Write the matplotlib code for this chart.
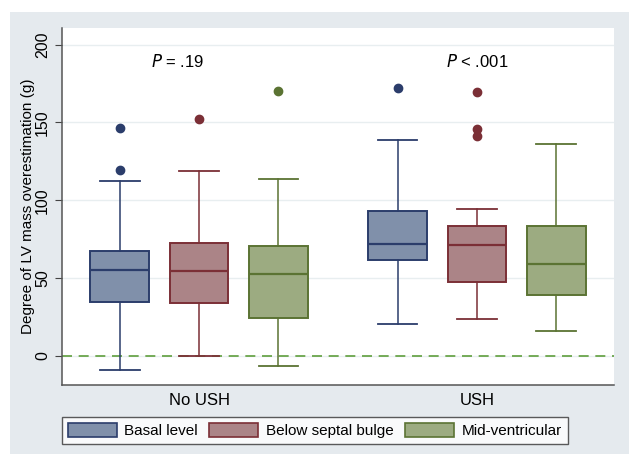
import numpy as np
import matplotlib
matplotlib.use("Agg")
import matplotlib.pyplot as plt
from matplotlib.patches import Rectangle, Patch

plt.rcParams['font.family'] = ['Liberation Sans', 'DejaVu Sans']

# values (g)
groups = ['No USH', 'USH']
levels = ['Basal level', 'Below septal bulge', 'Mid-ventricular']
p_labels = [r'$\it{P}$ = .19', r'$\it{P}$ < .001']

# per box: whisker low, Q1, median, Q3, whisker high (No USH x3, then USH x3)
whislo = [-9.0, 0.0, -6.6, 20.2, 23.6, 15.7]
q1 = [34.7, 34.1, 24.4, 61.7, 47.6, 39.2]
med = [54.9, 54.3, 52.7, 72.0, 71.2, 59.2]
q3 = [67.1, 72.7, 70.4, 93.2, 83.6, 83.2]
whishi = [112.1, 118.8, 113.4, 138.7, 94.3, 135.9]
outliers = [[146.4, 119.6], [152.4], [170.2], [172.2], [169.6, 146.0, 141.3], []]

fills = ['#8090aa', '#ab8487', '#9cab81']
edges = ['#2b3d6b', '#7b2f36', '#5b7333']

fig = plt.figure(figsize=(6.29, 4.54), dpi=100)
fig.patches.append(Rectangle((10 / 629, 0), 1, 1 - 12 / 454, transform=fig.transFigure,
                             facecolor='#e5eaee', edgecolor='none', zorder=-1))
ax = fig.add_axes([62 / 629, 1 - 385 / 454, (614 - 62) / 629, (385 - 28) / 454])
ax.set_facecolor('white')

positions = [0, 1, 2, 3.5, 4.5, 5.5]
for i, pos in enumerate(positions):
    k = i % 3
    stats = [dict(whislo=whislo[i], q1=q1[i], med=med[i], q3=q3[i], whishi=whishi[i],
                  fliers=outliers[i])]
    ax.bxp(stats, positions=[pos], widths=0.74, patch_artist=True, manage_ticks=False,
           boxprops=dict(facecolor=fills[k], edgecolor=edges[k], linewidth=1.4),
           medianprops=dict(color=edges[k], linewidth=1.6),
           whiskerprops=dict(color=edges[k], linewidth=1.1),
           capprops=dict(color=edges[k], linewidth=1.3), capwidths=0.5,
           flierprops=dict(marker='o', markerfacecolor=edges[k], markeredgecolor=edges[k],
                           markersize=6))

ax.axhline(0, color='#5f9e3c', lw=1.2, ls=(0, (6, 4)), zorder=1)

ax.set_xlim(-0.727, 6.227)
ax.set_ylim(-18.8, 210.7)
ax.set_yticks([0, 50, 100, 150, 200])
ax.yaxis.grid(True, color='#e8eef0', lw=1)
ax.set_axisbelow(True)
ax.tick_params(axis='y', labelsize=11.5, length=5, color='#444444', labelrotation=90)
for lab in ax.get_yticklabels():
    lab.set_va('center')
ax.set_xticks([1, 4.5])
ax.set_xticklabels(groups, fontsize=12)
ax.tick_params(axis='x', length=0, pad=6)
ax.set_ylabel('Degree of LV mass overestimation (g)', fontsize=11, labelpad=0)

for s in ['top', 'right']:
    ax.spines[s].set_visible(False)
for s in ['left', 'bottom']:
    ax.spines[s].set_color('#555555')
    ax.spines[s].set_linewidth(1.1)

ax.text(0.73, 189, p_labels[0], ha='center', va='center', fontsize=12)
ax.text(4.5, 189, p_labels[1], ha='center', va='center', fontsize=12)

handles = [Patch(facecolor=fills[k], edgecolor=edges[k], lw=1.2) for k in range(3)]
leg = fig.legend(handles, levels, loc='center', bbox_to_anchor=(0.5006, 1 - 430.5 / 454),
                 ncol=3, fontsize=11, frameon=True, fancybox=False, handlelength=3.2,
                 handleheight=1.0, columnspacing=0.75, handletextpad=0.5, borderpad=0.4,
                 borderaxespad=0)
leg.get_frame().set_edgecolor('#333333')
leg.get_frame().set_linewidth(1.0)

fig.savefig('out.png', dpi=100)
